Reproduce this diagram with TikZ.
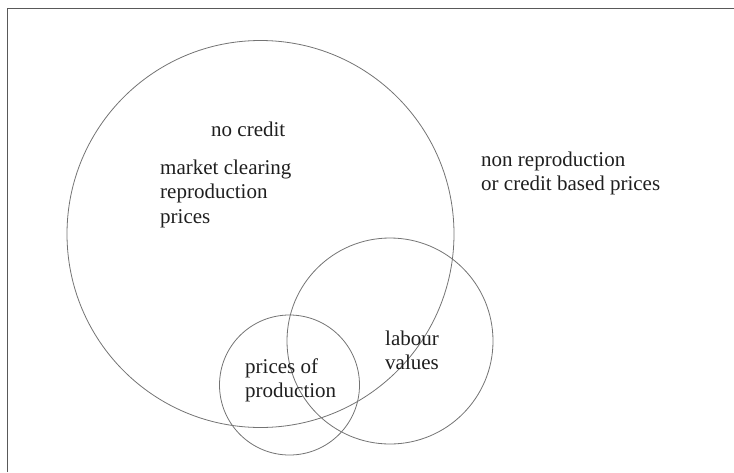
\documentclass[tikz,border=0pt]{standalone}
\usepackage{fontspec}
\setmainfont{Liberation Serif}
\begin{document}
\begin{tikzpicture}[x=1pt,y=-1pt,
  ring/.style={draw=black!55,line width=0.8pt},
  frameline/.style={draw=black!65,line width=1.8pt},
  lbl/.style={inner sep=0pt,anchor=base west,align=left,font=\fontsize{21}{24.5}\selectfont,text=black!88}]
\useasboundingbox (0,0) rectangle (734,472);
\coordinate (fa) at (7.5,472);
\coordinate (fb) at (7.5,8.5);
\coordinate (fc) at (734,8.5);
\draw[frameline] (fa) -- (fb) -- (fc);
\node[ring,circle,minimum size=387pt,inner sep=0pt] (big) at (260.5,234) {};
\node[ring,circle,minimum size=206pt,inner sep=0pt] (lab) at (390,341) {};
\node[ring,circle,minimum size=140pt,inner sep=0pt] (pp) at (289.5,385) {};
\node[lbl] (nc) at (211,136) {no credit};
\node[lbl] (mc) at (160,223) {market clearing\\reproduction\\prices};
\node[lbl] (nr) at (481,190.5) {non reproduction\\or credit based prices};
\node[lbl] (pop) at (245,397.5) {prices of\\production};
\node[lbl] (lv) at (385,369.5) {labour\\values};
\end{tikzpicture}
\end{document}
